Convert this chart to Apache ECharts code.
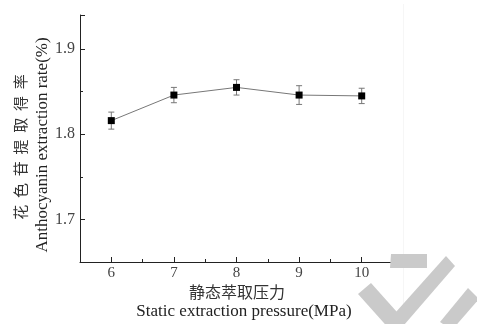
<!DOCTYPE html>
<html>
<head>
<meta charset="utf-8">
<script src="https://cdn.jsdelivr.net/npm/echarts@6/dist/echarts.min.js"></script>
<style>
  html, body { margin: 0; background: #fff; }
  #chart { width: 477px; height: 324px; }
</style>
</head>
<body>
<div id="chart"></div>
<script>
// data
var pressure = [6, 7, 8, 9, 10];
var rate = [1.816, 1.846, 1.855, 1.846, 1.845];
var rateErr = [0.010, 0.009, 0.009, 0.011, 0.009];
var xTickLabels = [6, 7, 8, 9, 10];
var yTickLabels = [1.7, 1.8, 1.9];

var serif = '"Liberation Serif", "Times New Roman", serif';
var cjk = '"Noto Sans CJK SC", sans-serif';

var myChart = echarts.init(document.getElementById('chart'));

var points = pressure.map(function (p, i) { return [p, rate[i]]; });
var bars = pressure.map(function (p, i) { return [p, rate[i] - rateErr[i], rate[i] + rateErr[i]]; });

function renderErr(params, api) {
  var lo = api.coord([api.value(0), api.value(1)]);
  var hi = api.coord([api.value(0), api.value(2)]);
  var w = 3;
  var st = { stroke: '#777', lineWidth: 1 };
  return {
    type: 'group',
    children: [
      { type: 'line', shape: { x1: lo[0], y1: lo[1], x2: hi[0], y2: hi[1] }, style: st },
      { type: 'line', shape: { x1: lo[0] - w, y1: lo[1], x2: lo[0] + w, y2: lo[1] }, style: st },
      { type: 'line', shape: { x1: hi[0] - w, y1: hi[1], x2: hi[0] + w, y2: hi[1] }, style: st }
    ]
  };
}

var axisLine = { show: true, lineStyle: { color: '#222', width: 1 } };

var option = {
  animation: false,
  grid: { left: 80, right: 84, top: 15, bottom: 62 },
  xAxis: [
    {
      type: 'value', min: 5.5, max: 10.5, position: 'bottom',
      axisLine: axisLine,
      axisTick: { inside: true, length: 5, customValues: [6, 7, 8, 9, 10, 10.5], lineStyle: { color: '#222' } },
      axisLabel: { customValues: xTickLabels, fontFamily: serif, fontSize: 15, color: '#444', margin: 4 },
      splitLine: { show: false }
    },
    {
      type: 'value', min: 5.5, max: 10.5, position: 'bottom',
      axisLine: { show: false },
      axisTick: { inside: true, length: 3, customValues: [6.5, 7.5, 8.5, 9.5], lineStyle: { color: '#222' } },
      axisLabel: { show: false },
      splitLine: { show: false }
    }
  ],
  yAxis: [
    {
      type: 'value', min: 1.65, max: 1.94, position: 'left',
      axisLine: axisLine,
      axisTick: { inside: true, length: 5, customValues: [1.7, 1.8, 1.9, 1.94], lineStyle: { color: '#222' } },
      axisLabel: { customValues: yTickLabels, fontFamily: serif, fontSize: 16, color: '#444', margin: 5,
        formatter: function (v) { return v.toFixed(1); } },
      splitLine: { show: false }
    },
    {
      type: 'value', min: 1.65, max: 1.94, position: 'left',
      axisLine: { show: false },
      axisTick: { inside: true, length: 3, customValues: [1.75, 1.85], lineStyle: { color: '#222' } },
      axisLabel: { show: false },
      splitLine: { show: false }
    }
  ],
  series: [
    {
      type: 'custom', xAxisIndex: 0, yAxisIndex: 0,
      renderItem: renderErr, data: bars, z: 2,
      encode: { x: 0, y: [1, 2] }
    },
    {
      type: 'line', xAxisIndex: 0, yAxisIndex: 0, data: points,
      symbol: 'rect', symbolSize: 7,
      itemStyle: { color: '#000' },
      lineStyle: { color: '#777', width: 1 },
      z: 3
    }
  ],
  graphic: [
    { type: 'line', shape: { x1: 403.5, y1: 4, x2: 403.5, y2: 324 }, style: { stroke: '#f6f6f6', lineWidth: 1 }, z: -1 },
    // watermark
    { type: 'polygon', shape: { points: [[391, 254], [427, 254], [427, 268], [390, 268]] }, style: { fill: '#cacaca' }, z: 10 },
    { type: 'polygon', shape: { points: [[358, 294], [371, 283], [405, 321], [392, 332]] }, style: { fill: '#cacaca' }, z: 10 },
    { type: 'polygon', shape: { points: [[446, 256], [455, 266], [398, 332], [387, 322]] }, style: { fill: '#cacaca' }, z: 10 },
    { type: 'polygon', shape: { points: [[468, 288], [479, 299], [452, 330], [440, 322]] }, style: { fill: '#cacaca' }, z: 10 },
    // axis titles
    { type: 'text', x: 20, y: 147, rotation: Math.PI / 2,
      style: { text: '花  色  苷  提  取  得  率', font: '15px ' + cjk, fill: '#333', align: 'center', verticalAlign: 'middle' } },
    { type: 'text', x: 43, y: 145, rotation: Math.PI / 2,
      style: { text: 'Anthocyanin extraction rate(%)', font: '17px ' + serif, fill: '#222', align: 'center', verticalAlign: 'middle' } },
    { type: 'text', x: 237, y: 292,
      style: { text: '静态萃取压力', font: '16px ' + cjk, fill: '#333', align: 'center', verticalAlign: 'middle' } },
    { type: 'text', x: 244, y: 312,
      style: { text: 'Static extraction pressure(MPa)', font: '17px ' + serif, fill: '#222', align: 'center', verticalAlign: 'middle' } }
  ]
};

option && myChart.setOption(option);
</script>
</body>
</html>
